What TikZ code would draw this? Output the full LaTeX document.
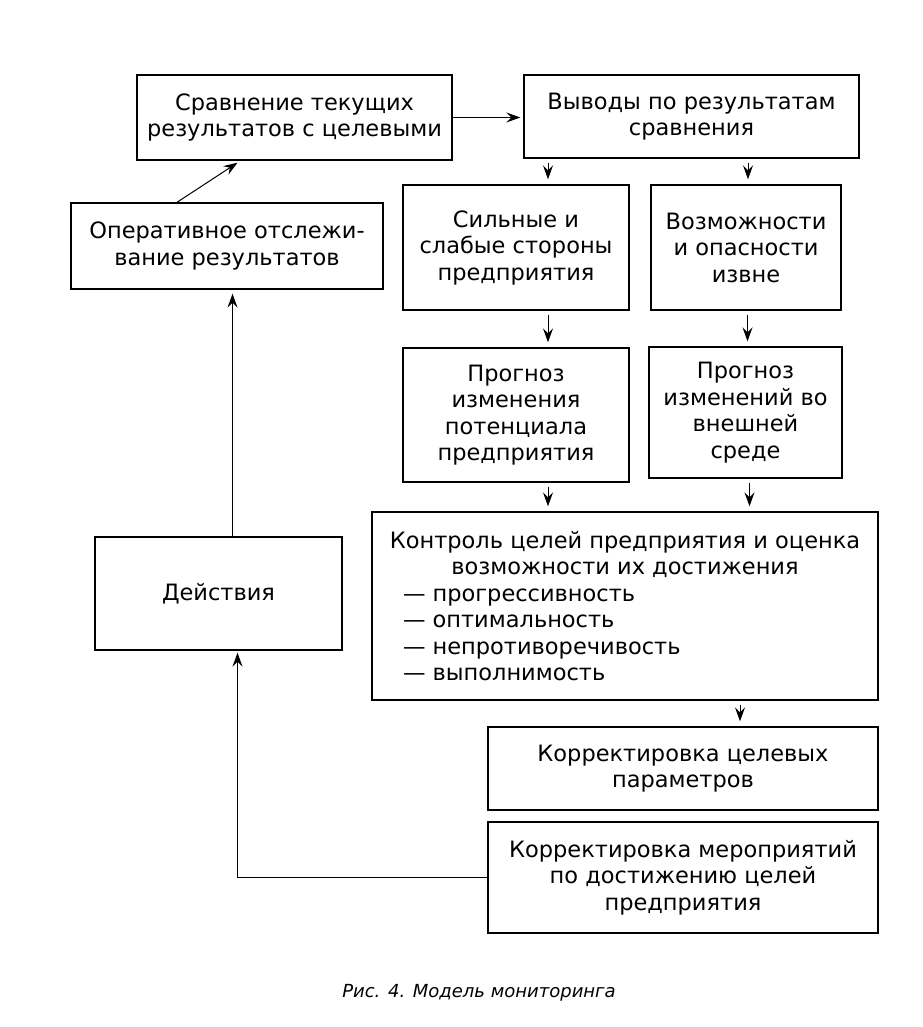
\documentclass[tikz,border=0pt]{standalone}
\usepackage{fontspec}
\setmainfont{DejaVu Sans}
\usetikzlibrary{arrows.meta}
\begin{document}
\begin{tikzpicture}[x=1pt,y=-1pt,
  box/.style={draw, line width=1.4pt, inner sep=0pt, align=center,
    font=\fontsize{22.5}{26.5}\selectfont},
  arr/.style={line width=1pt, -{Stealth[length=14pt,width=10pt,inset=5pt]}},
  darr/.style={arr, shorten <=4pt, shorten >=5pt},
  captext/.style={font=\fontsize{18}{20}\selectfont\itshape}]
\useasboundingbox (0,0) rectangle (922,1027);
\fill[white] (0,0) rectangle (922,1027);

\node[box, minimum width=315, minimum height=85] (srav) at (294.5,117.5)
  {Сравнение текущих\\результатов с целевыми};
\node[box, minimum width=335, minimum height=83] (vyv) at (691.5,116.5)
  {Выводы по результатам\\сравнения};
\node[box, minimum width=312, minimum height=86] (oper) at (227,246)
  {Оперативное отслежи-\\вание результатов};
\node[box, minimum width=226, minimum height=125] (sil) at (516,247.5)
  {Сильные и\\слабые стороны\\предприятия};
\node[box, minimum width=190, minimum height=125] (voz) at (746,247.5)
  {Возможности\\и опасности\\извне};
\node[box, minimum width=226, minimum height=134] (prog1) at (516,415)
  {Прогноз\\изменения\\потенциала\\предприятия};
\node[box, minimum width=193, minimum height=131] (prog2) at (745.5,412.5)
  {Прогноз\\изменений во\\внешней\\среде};
\node[box, minimum width=506, minimum height=188] (kontr) at (625,606)
  {Контроль целей предприятия и оценка\\возможности их достижения\\
   \makebox[444pt][l]{— прогрессивность}\\
   \makebox[444pt][l]{— оптимальность}\\
   \makebox[444pt][l]{— непротиворечивость}\\
   \makebox[444pt][l]{— выполнимость}};
\node[box, minimum width=390, minimum height=83] (korr1) at (683,768.5)
  {Корректировка целевых\\параметров};
\node[box, minimum width=390, minimum height=111] (korr2) at (683,877.5)
  {Корректировка мероприятий\\по достижению целей\\предприятия};
\node[box, minimum width=247, minimum height=113] (deyst) at (218.5,593.5)
  {Действия};

\node[captext] (caption) at (479,993) {Рис. 4. Модель мониторинга};

\draw[arr] (srav.east) -- ([xshift=-3pt]srav.east -| vyv.west);
\draw[arr] ([xshift=-50pt]oper.north) -- ([xshift=-57pt,yshift=-2pt]srav.south);
\draw[darr] ([xshift=32pt]sil.north |- vyv.south) -- ([xshift=32pt]sil.north);
\draw[darr] ([xshift=2pt]voz.north |- vyv.south) -- ([xshift=2pt]voz.north);
\draw[darr] ([xshift=32pt]prog1.north |- sil.south) -- ([xshift=32pt]prog1.north);
\draw[darr] ([xshift=2pt]prog2.north |- voz.south) -- ([xshift=2pt]prog2.north);
\draw[darr] ([xshift=32pt]prog1.south) -- ([xshift=32pt]prog1.south |- kontr.north);
\draw[darr] ([xshift=4pt]prog2.south) -- ([xshift=4pt]prog2.south |- kontr.north);
\draw[darr] ([xshift=57pt]korr1.north |- kontr.south) -- ([xshift=57pt]korr1.north);
\draw[arr] (korr2.west) -| ([xshift=19pt,yshift=-2pt]deyst.south);
\draw[arr] ([xshift=14pt]deyst.north) -- ([xshift=14pt,yshift=-4pt]deyst.north |- oper.south);
\end{tikzpicture}
\end{document}
